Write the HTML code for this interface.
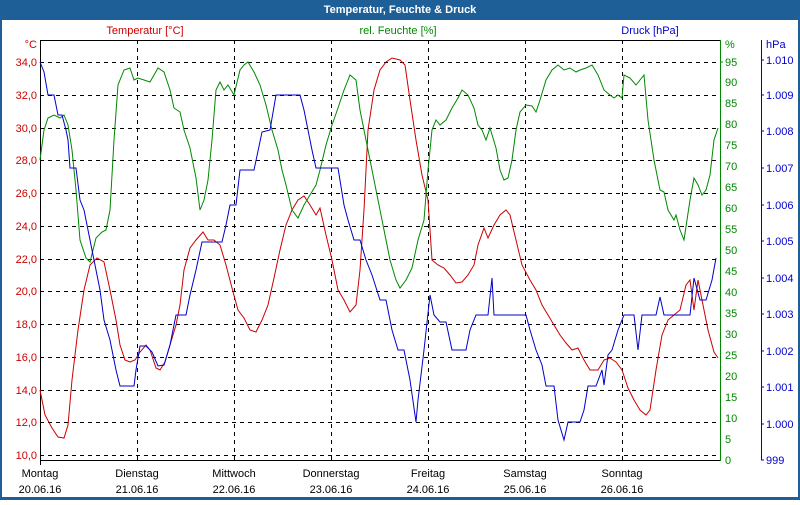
<!DOCTYPE html>
<html><head><meta charset="utf-8"><style>
body{margin:0;background:#fff;}
svg text{font-family:"Liberation Sans","DejaVu Sans",sans-serif;font-size:11px;}
</style></head><body>
<svg width="800" height="500" viewBox="0 0 800 500" xmlns="http://www.w3.org/2000/svg">
<rect x="0" y="0" width="800" height="500" fill="#1e5f98"/>
<rect x="2" y="20" width="796" height="477" fill="#fff"/>
<text x="400" y="13" fill="#fff" text-anchor="middle" style="font-weight:bold;font-size:11px">Temperatur, Feuchte &amp; Druck</text>
<g stroke="#000" stroke-dasharray="4,4" stroke-width="1">
<line x1="40" x2="720" y1="62.5" y2="62.5"/><line x1="40" x2="720" y1="95.5" y2="95.5"/><line x1="40" x2="720" y1="128.5" y2="128.5"/><line x1="40" x2="720" y1="160.5" y2="160.5"/><line x1="40" x2="720" y1="193.5" y2="193.5"/><line x1="40" x2="720" y1="226.5" y2="226.5"/><line x1="40" x2="720" y1="259.5" y2="259.5"/><line x1="40" x2="720" y1="291.5" y2="291.5"/><line x1="40" x2="720" y1="324.5" y2="324.5"/><line x1="40" x2="720" y1="357.5" y2="357.5"/><line x1="40" x2="720" y1="390.5" y2="390.5"/><line x1="40" x2="720" y1="422.5" y2="422.5"/><line x1="40" x2="720" y1="455.5" y2="455.5"/>
<line x1="137.5" x2="137.5" y1="40" y2="460"/><line x1="234.5" x2="234.5" y1="40" y2="460"/><line x1="331.5" x2="331.5" y1="40" y2="460"/><line x1="428.5" x2="428.5" y1="40" y2="460"/><line x1="525.5" x2="525.5" y1="40" y2="460"/><line x1="622.5" x2="622.5" y1="40" y2="460"/>
</g>
<line x1="40" x2="720" y1="40.5" y2="40.5" stroke="#000"/>
<line x1="40" x2="720" y1="460.5" y2="460.5" stroke="#000"/>
<line x1="40.5" x2="40.5" y1="40" y2="465" stroke="#000"/>
<line x1="720.5" x2="720.5" y1="40" y2="461" stroke="#080"/>
<line x1="761.5" x2="761.5" y1="40" y2="460" stroke="#00c"/>
<g fill="#c00" text-anchor="end">
<text x="37" y="48">°C</text>
<text x="37" y="66">34,0</text><text x="37" y="99">32,0</text><text x="37" y="132">30,0</text><text x="37" y="164">28,0</text><text x="37" y="197">26,0</text><text x="37" y="230">24,0</text><text x="37" y="263">22,0</text><text x="37" y="295">20,0</text><text x="37" y="328">18,0</text><text x="37" y="361">16,0</text><text x="37" y="394">14,0</text><text x="37" y="426">12,0</text><text x="37" y="459">10,0</text>
</g>
<text x="145" y="34" fill="#c00" text-anchor="middle">Temperatur [°C]</text>
<text x="398" y="34" fill="#080" text-anchor="middle">rel. Feuchte [%]</text>
<text x="650" y="34" fill="#00c" text-anchor="middle">Druck [hPa]</text>
<g fill="#080">
<text x="725" y="48">%</text>
<text x="725" y="66">95</text><text x="725" y="86">90</text><text x="725" y="107">85</text><text x="725" y="128">80</text><text x="725" y="149">75</text><text x="725" y="170">70</text><text x="725" y="191">65</text><text x="725" y="212">60</text><text x="725" y="233">55</text><text x="725" y="254">50</text><text x="725" y="275">45</text><text x="725" y="296">40</text><text x="725" y="317">35</text><text x="725" y="338">30</text><text x="725" y="359">25</text><text x="725" y="380">20</text><text x="725" y="401">15</text><text x="725" y="422">10</text><text x="725" y="443">5</text><text x="725" y="464">0</text>
</g>
<g stroke="#080"><line x1="720" x2="723" y1="62" y2="62"/></g>
<g fill="#00c">
<text x="766" y="48">hPa</text>
<text x="766" y="64">1.010</text><text x="766" y="99">1.009</text><text x="766" y="135">1.008</text><text x="766" y="172">1.007</text><text x="766" y="209">1.006</text><text x="766" y="245">1.005</text><text x="766" y="282">1.004</text><text x="766" y="318">1.003</text><text x="766" y="355">1.002</text><text x="766" y="391">1.001</text><text x="766" y="428">1.000</text><text x="766" y="464">999</text>
</g>
<g stroke="#00c"><line x1="761" x2="764" y1="60" y2="60"/><line x1="761" x2="764" y1="95" y2="95"/><line x1="761" x2="764" y1="131" y2="131"/><line x1="761" x2="764" y1="168" y2="168"/><line x1="761" x2="764" y1="205" y2="205"/><line x1="761" x2="764" y1="241" y2="241"/><line x1="761" x2="764" y1="278" y2="278"/><line x1="761" x2="764" y1="314" y2="314"/><line x1="761" x2="764" y1="351" y2="351"/><line x1="761" x2="764" y1="387" y2="387"/><line x1="761" x2="764" y1="424" y2="424"/><line x1="761" x2="764" y1="460" y2="460"/></g>
<g fill="#000" text-anchor="middle">
<text x="40" y="477">Montag</text><text x="40" y="493">20.06.16</text>
<text x="137" y="477">Dienstag</text><text x="137" y="493">21.06.16</text>
<text x="234" y="477">Mittwoch</text><text x="234" y="493">22.06.16</text>
<text x="331" y="477">Donnerstag</text><text x="331" y="493">23.06.16</text>
<text x="428" y="477">Freitag</text><text x="428" y="493">24.06.16</text>
<text x="525" y="477">Samstag</text><text x="525" y="493">25.06.16</text>
<text x="622" y="477">Sonntag</text><text x="622" y="493">26.06.16</text>
</g>
<polyline fill="none" stroke="#c00" stroke-width="1" points="40,390 45,415 52,428 58,437 64,438 68,425 72,380 78,330 84,290 90,265 97,258 104,262 110,290 116,320 120,345 125,360 130,362 135,360 140,352 146,345 150,350 156,368 160,370 165,362 170,345 176,325 180,305 184,270 190,248 196,240 203,232 208,240 214,240 220,245 226,265 232,288 238,310 244,318 250,330 256,332 262,320 268,305 274,278 280,250 286,225 292,210 298,200 304,196 310,205 316,215 320,208 326,235 332,260 338,290 344,300 350,312 356,305 360,270 364,210 368,130 374,90 380,70 386,62 392,58 400,60 405,65 410,100 416,140 422,175 428,200 432,260 438,265 444,268 450,275 456,283 462,282 468,275 474,265 478,245 484,228 488,238 494,225 500,215 506,210 510,215 516,240 522,265 530,280 536,290 542,305 548,315 554,325 560,335 566,343 572,350 578,348 584,360 590,370 598,370 604,360 610,358 616,362 622,370 628,388 634,400 640,410 646,415 650,410 656,370 662,335 668,320 674,315 680,310 686,285 690,280 694,310 698,280 702,300 708,330 714,352 718,358"/>
<polyline fill="none" stroke="#080" stroke-width="1" points="40,160 44,130 48,118 54,115 60,118 64,115 68,125 72,150 76,190 80,240 86,258 90,262 96,238 102,232 106,230 110,210 114,140 118,85 124,70 130,68 134,80 138,78 144,80 150,82 154,75 158,68 164,72 170,90 174,108 180,112 184,130 190,148 196,178 200,210 204,200 208,180 212,140 216,90 220,82 224,90 228,85 234,95 240,70 244,65 248,62 254,72 260,85 266,105 272,130 278,150 282,170 286,185 292,210 298,218 304,205 310,195 316,185 320,170 326,145 332,125 338,108 344,90 350,75 356,80 360,110 366,140 372,170 378,200 384,230 390,260 396,280 400,288 406,280 412,268 418,240 424,220 428,170 432,130 436,120 440,125 446,120 452,108 458,98 462,90 468,95 474,108 478,125 482,130 486,140 490,128 496,148 500,170 504,180 508,178 512,160 516,130 520,112 526,105 532,106 536,112 540,100 546,80 552,70 558,65 564,70 570,68 576,72 580,70 586,68 592,65 598,75 604,90 610,95 614,98 618,95 622,98 624,75 630,78 636,85 640,80 644,75 648,120 654,160 660,190 664,192 668,210 674,220 676,215 680,230 684,240 690,200 694,178 698,185 702,195 706,190 710,175 714,140 718,128"/>
<polyline fill="none" stroke="#00c" stroke-width="1" points="40,62 44,72 48,95 54,95 58,115 62,115 66,130 68,140 70,168 76,168 80,200 84,210 90,240 96,270 100,290 104,320 110,340 116,370 120,386 134,386 136,370 140,346 146,346 152,352 158,366 164,365 170,345 176,315 186,315 190,295 196,270 202,242 222,242 226,225 230,205 236,205 240,170 254,170 262,132 270,130 276,95 300,95 304,110 312,150 316,168 338,168 344,205 348,220 354,240 360,240 366,260 372,275 380,300 386,300 392,330 398,350 404,350 410,380 416,422 418,400 424,350 430,295 434,315 440,322 446,322 452,350 466,350 470,330 476,315 488,315 492,278 494,315 526,315 530,330 536,350 542,365 546,386 554,386 558,420 564,440 568,422 580,422 584,410 588,386 596,386 602,370 604,385 608,355 612,350 618,330 624,315 634,315 638,350 642,315 656,315 660,297 664,315 690,315 694,278 700,300 706,300 712,280 716,258"/>
</svg>
</body></html>
